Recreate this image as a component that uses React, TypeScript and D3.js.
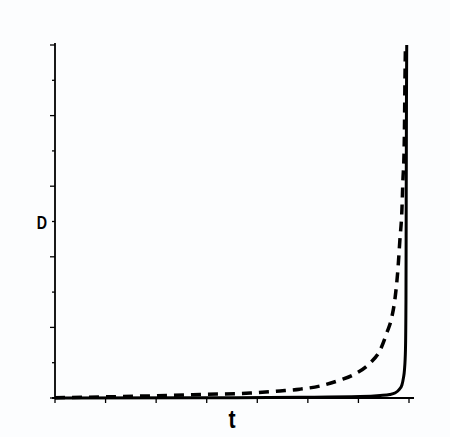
import * as d3 from "d3";

// time axis ticks (no labels) and D axis ticks
const tTicks = [0, 1, 2, 3, 4, 5, 6, 7];
const dTicks = [0, 1, 2, 3, 4, 5, 6, 7, 8, 9, 10];

// dashed curve
const dashedT = [0, 0.89, 1.88, 2.87, 3.86, 4.45, 4.84, 5.24, 5.64, 5.89, 6.23, 6.43, 6.56, 6.66, 6.72, 6.78, 6.82, 6.86, 6.88, 6.9, 6.91, 6.92, 6.93];
const dashedD = [0.01, 0.03, 0.06, 0.1, 0.14, 0.2, 0.25, 0.34, 0.51, 0.65, 0.99, 1.36, 1.84, 2.29, 2.78, 3.63, 4.48, 5.33, 6.18, 6.83, 7.59, 9.01, 10.0];

// solid curve
const solidT = [0, 2.87, 4.84, 6.03, 6.43, 6.62, 6.72, 6.8, 6.86, 6.89, 6.91, 6.93, 6.94, 6.945, 6.95, 6.955];
const solidD = [0, 0.006, 0.02, 0.04, 0.07, 0.1, 0.14, 0.23, 0.37, 0.57, 0.79, 1.36, 2.78, 5.61, 8.44, 10.0];

const W = 450;
const H = 437;
const margin = { left: 55, right: 41, top: 45, bottom: 39 };

export default function App() {
  const x = d3.scaleLinear().domain([0, 7]).range([margin.left, W - margin.right]);
  const y = d3.scaleLinear().domain([0, 10]).range([H - margin.bottom, margin.top]);

  const line = d3
    .line<[number, number]>()
    .x(d => x(d[0]))
    .y(d => y(d[1]))
    .curve(d3.curveMonotoneX);

  const dashed = dashedT.map((t, i) => [t, dashedD[i]] as [number, number]);
  const solid = solidT.map((t, i) => [t, solidD[i]] as [number, number]);

  const font = "'Liberation Sans', Arial, sans-serif";

  return (
    <svg
      width={W}
      height={H}
      style={{ position: "absolute", left: 0, top: 0, background: "#fcfdfe" }}
    >
      {/* axes */}
      <line x1={x(0)} x2={x(0)} y1={y(0)} y2={y(10) - 2} stroke="#000" strokeWidth={1.8} />
      <line x1={x(0) - 3} x2={x(7) + 5} y1={y(0)} y2={y(0)} stroke="#000" strokeWidth={1.8} />
      {dTicks.map(d => (
        <line
          key={"dy" + d}
          x1={x(0) - (d % 2 === 0 ? 5 : 3)}
          x2={x(0)}
          y1={y(d)}
          y2={y(d)}
          stroke="#000"
          strokeWidth={1.3}
        />
      ))}
      {tTicks.map(t => (
        <line
          key={"tx" + t}
          x1={x(t)}
          x2={x(t)}
          y1={y(0)}
          y2={y(0) + 5}
          stroke="#000"
          strokeWidth={1.3}
        />
      ))}

      {/* curves */}
      <path d={line(solid) ?? ""} fill="none" stroke="#000" strokeWidth={3} />
      <path
        d={line(dashed) ?? ""}
        fill="none"
        stroke="#000"
        strokeWidth={3.5}
        strokeDasharray="10 7"
      />

      {/* labels */}
      <text
        transform={`translate(42,${y(5) + 7}) scale(0.75,1)`}
        textAnchor="middle"
        fontFamily={font}
        fontWeight="bold"
        fontSize={19}
      >
        D
      </text>
      <text
        transform="translate(232,428) scale(0.85,1)"
        textAnchor="middle"
        fontFamily={font}
        fontWeight="bold"
        fontSize={25}
      >
        t
      </text>
    </svg>
  );
}
